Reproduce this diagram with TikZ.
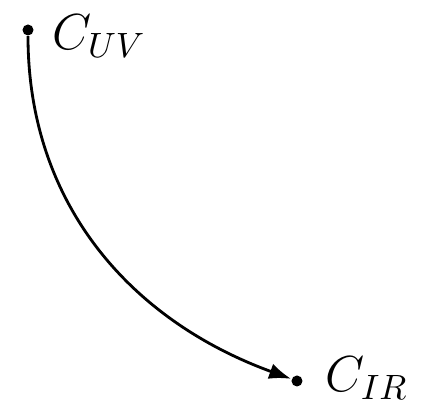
\documentclass[tikz,border=0pt]{standalone}
\usetikzlibrary{arrows.meta}
\begin{document}
\begin{tikzpicture}[x=0.01cm, y=-0.01cm,
    pt/.style={circle, fill, inner sep=0pt, minimum size=0.11cm},
    lbl/.style={font=\Large, inner sep=0pt}]
    \useasboundingbox (0,0) rectangle (444,401);
    \node[pt] (uv) at (28,30) {};
    \node[pt] (ir) at (297,381) {};
    \node[lbl, anchor=west] (uvlabel) at (52,36) {$C_{UV}$};
    \node[lbl, anchor=west] (irlabel) at (325,378) {$C_{IR}$};
    \draw[thick, -{Latex[length=0.22cm, width=0.16cm]}] (uv) to[out=-90, in=160] (ir);
\end{tikzpicture}
\end{document}
